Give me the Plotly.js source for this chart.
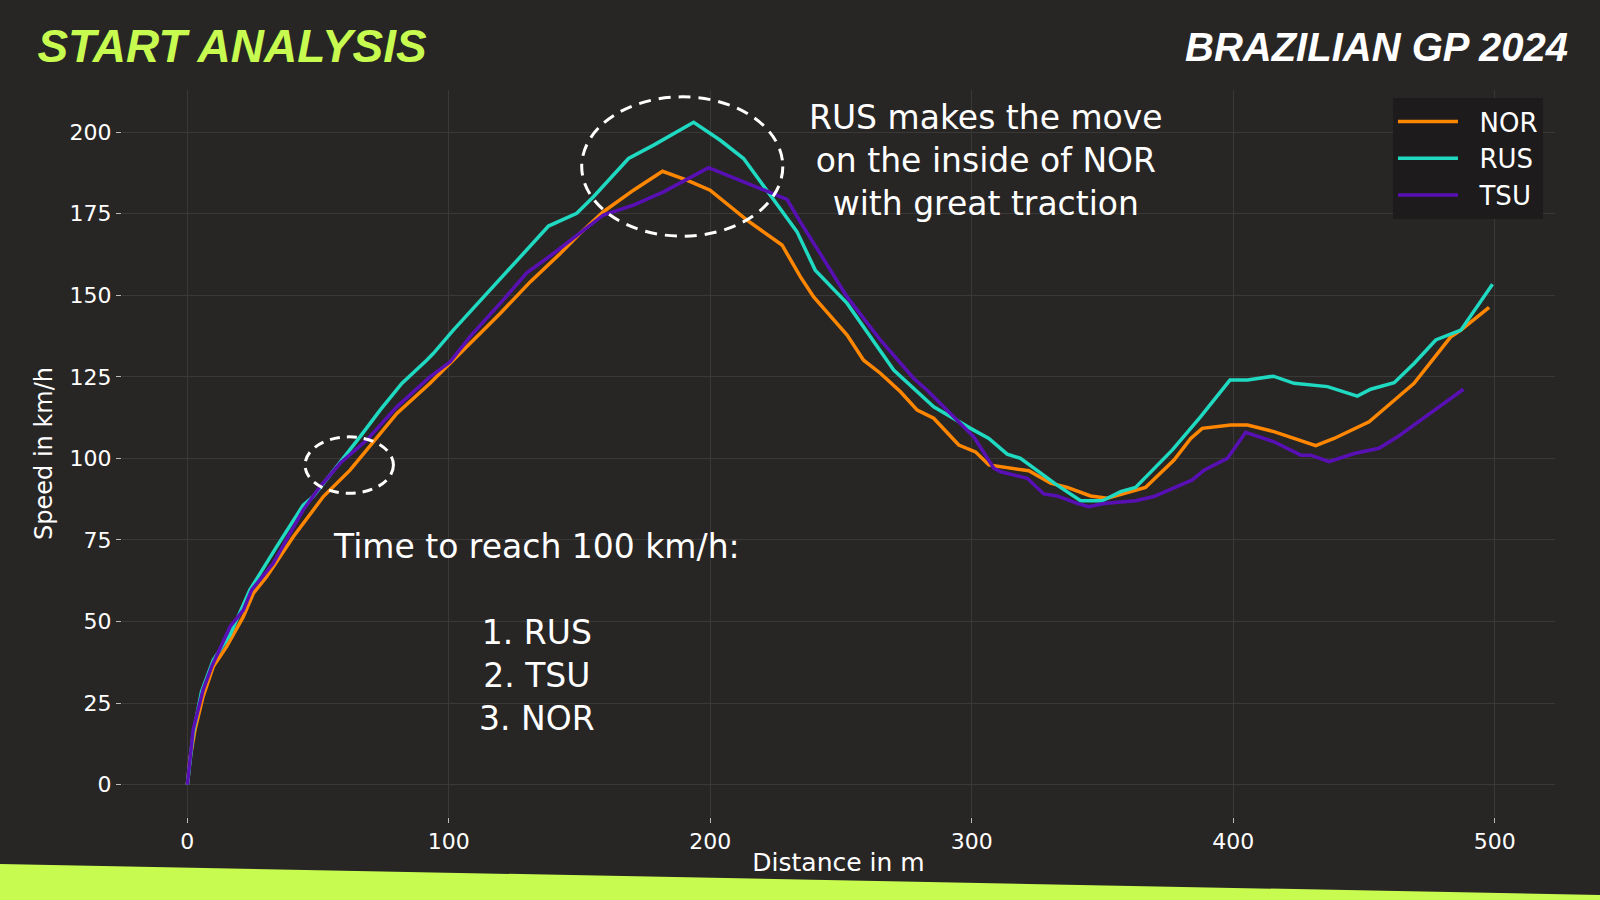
<!DOCTYPE html>
<html>
<head>
<meta charset="utf-8">
<script src="https://cdn.plot.ly/plotly-3.0.1.min.js"></script>
<style>
  html, body { margin: 0; padding: 0; background: #282525; }
  #wrap { position: relative; width: 1600px; height: 900px; overflow: hidden; }
  #chart { width: 1600px; height: 900px; }
  #band {
    position: absolute; left: 0; top: 0; width: 1600px; height: 900px;
    background: #c8fb50; pointer-events: none;
    clip-path: polygon(0px 864px, 1600px 895px, 1600px 900px, 0px 900px);
  }
</style>
</head>
<body>
<div id="wrap">
<div id="chart"></div>
<div id="band"></div>
</div>
<script>
// ---- Data ----
const drivers = ["NOR", "RUS", "TSU"];
const colors = ["#ff8700", "#1fd9c1", "#5810b4"];

const norDistance = [0, 1, 2.9, 6, 9.9, 15, 21.4, 25.2, 30.3, 40.5, 52, 62.2, 68.6, 80.1, 92.8, 100.5, 109.4, 119.6, 131.1, 142.6, 150.2, 159.1, 170.6, 181.7, 191, 199.9, 214, 227.4, 234.4, 239.5, 252.3, 258.6, 265, 272.7, 279.1, 285.4, 295, 301.4, 306.5, 311.6, 321.8, 330.1, 336.5, 345.4, 351.8, 366.4, 377.3, 383.7, 388.1, 399, 405.4, 415.5, 431.5, 438.5, 451.9, 460.2, 469.1, 483.2, 487, 497.8];
const norSpeed = [0, 8, 16.8, 27, 36.2, 42.3, 51.5, 58.6, 63.7, 76, 88.3, 96.4, 102.6, 113.8, 123, 129.1, 136.3, 144.4, 154.1, 162.8, 169, 175.6, 182.2, 188, 185.3, 182.2, 173, 165.4, 155.7, 149.5, 137.8, 130.1, 126.1, 120.4, 114.8, 112.3, 104.1, 102, 98, 97.4, 96.2, 92.4, 91.1, 88.5, 87.8, 91.1, 99.5, 106.1, 109.2, 110.2, 110.2, 108.2, 103.9, 106.1, 111.2, 116.9, 123, 137.3, 139.3, 146.3];

const rusDistance = [0, 2.2, 5.4, 9.9, 16.3, 23.9, 34.1, 44.3, 48.1, 57.1, 66, 73.7, 82, 91.5, 94.1, 101.7, 114.5, 127.3, 138.1, 148.9, 155.3, 168.7, 178.3, 193.6, 203.8, 212.7, 222.9, 233.1, 240.1, 252.3, 270.1, 285.4, 299.5, 306.5, 313.5, 318.6, 332.6, 341.6, 349.9, 356.9, 362.6, 376.7, 387.5, 398.7, 405.4, 415.3, 423.2, 436, 447.4, 452.5, 461.5, 469.1, 477.4, 487, 499.1];
const rusSpeed = [0, 15.7, 28.5, 38.2, 45.9, 59.7, 72.9, 85.7, 88.3, 97.4, 106.6, 114.8, 123, 130.1, 132.2, 139.3, 150.6, 161.8, 171.2, 175.1, 180.2, 191.9, 196, 203, 197.5, 191.9, 180.7, 169.5, 157.7, 147.5, 127.1, 115.8, 109.2, 106.1, 101.3, 100, 91.8, 87, 87, 89.8, 91.1, 102.6, 112.8, 124, 124, 125.2, 123, 122, 119.1, 121.2, 123.2, 129.1, 136.3, 139.3, 153.4];

const tsuDistance = [0, 2.2, 6, 9.3, 16.3, 21.4, 24.6, 32.8, 44.3, 50.7, 58.4, 68.6, 80.1, 92.8, 100.5, 108.1, 119.6, 129.8, 140, 150.2, 159.1, 170.6, 182.1, 199.3, 211.4, 229.3, 234.4, 239.5, 252.3, 265, 277.8, 282.9, 300.7, 308.4, 311, 321.2, 327.5, 332.6, 340.3, 344.7, 350.5, 362.6, 369.6, 384.3, 388.8, 397.7, 404.7, 415.5, 425.8, 429.6, 436.6, 446.2, 455.7, 462.8, 476.8, 488];
const tsuSpeed = [0, 16.8, 29, 36.2, 48.4, 53.5, 59.7, 67.8, 84.2, 91.3, 98.5, 105.6, 115.8, 125, 129.6, 137.3, 147.5, 156.9, 162.8, 169, 174.6, 177.6, 181.7, 189.1, 185.3, 179.4, 172.5, 165.9, 149.5, 136.3, 124.5, 120.9, 106.6, 97, 95.9, 93.9, 89.1, 88.5, 86.2, 85.2, 86.2, 87, 88.3, 93.4, 96.4, 100, 108, 105.1, 101, 101, 99, 101.5, 103.1, 106.6, 114.8, 121.2];

const xTickValues = [0, 100, 200, 300, 400, 500];
const yTickValues = [0, 25, 50, 75, 100, 125, 150, 175, 200];

const titleText = "START ANALYSIS";
const subtitleText = "BRAZILIAN GP 2024";
const moveNote = "RUS makes the move<br>on the inside of NOR<br>with great traction";
const rankNote = "Time to reach 100 km/h:<br><br>1. RUS<br>2. TSU<br>3. NOR";

// highlighted regions (distance range, speed range)
const peakCircle = { d0: 150.8, d1: 227.7, s0: 168.1, s1: 210.8 };
const launchCircle = { d0: 45, d1: 78.8, s0: 89.3, s1: 106.6 };

// ---- Chart ----
const distances = [norDistance, rusDistance, tsuDistance];
const speeds = [norSpeed, rusSpeed, tsuSpeed];
const legendPad = "\u00a0\u00a0";

const traces = drivers.map((name, i) => ({
  type: "scatter",
  mode: "lines",
  name: legendPad + name,
  x: distances[i],
  y: speeds[i],
  line: { color: colors[i], width: 3.5 },
  hoverinfo: "skip"
}));

const white = "#ffffff";
const bg = "#282525";
const lime = "#c8fb50";

const layout = {
  width: 1600,
  height: 900,
  paper_bgcolor: bg,
  plot_bgcolor: bg,
  margin: { l: 122, r: 45, t: 90, b: 83 },
  font: { family: "DejaVu Sans", color: white },
  title: {
    text: titleText,
    x: 0.0234, xanchor: "left",
    y: 0.949, yanchor: "middle", yref: "container",
    font: { family: "Liberation Sans", size: 46, color: lime, weight: "bold", style: "italic" }
  },
  showlegend: true,
  legend: {
    x: 0.9916, xanchor: "right",
    y: 0.989, yanchor: "top",
    bgcolor: "#1d1b1b",
    borderwidth: 0,
    itemwidth: 60,
    font: { family: "DejaVu Sans", size: 26, color: white }
  },
  xaxis: {
    range: [-25, 523],
    tickvals: xTickValues,
    ticks: "outside", ticklen: 5, tickwidth: 1, tickcolor: "#bdbdbd",
    tickfont: { family: "DejaVu Sans", size: 22, color: white },
    showgrid: true, gridcolor: "#3b3838", gridwidth: 1,
    zeroline: false, showline: false,
    title: { text: "Distance in m", font: { family: "DejaVu Sans", size: 25, color: white }, standoff: 0 }
  },
  yaxis: {
    range: [-9.9, 212.9],
    tickvals: yTickValues,
    ticks: "outside", ticklen: 5, tickwidth: 1, tickcolor: "#bdbdbd",
    tickfont: { family: "DejaVu Sans", size: 22, color: white },
    showgrid: true, gridcolor: "#3b3838", gridwidth: 1,
    zeroline: false, showline: false,
    title: { text: "Speed in km/h", font: { family: "DejaVu Sans", size: 24, color: white }, standoff: 10 }
  },
  shapes: [
    {
      type: "circle", xref: "x", yref: "y", layer: "above",
      x0: peakCircle.d0, x1: peakCircle.d1, y0: peakCircle.s0, y1: peakCircle.s1,
      line: { color: white, width: 3, dash: "12px,8px" }
    },
    {
      type: "circle", xref: "x", yref: "y", layer: "above",
      x0: launchCircle.d0, x1: launchCircle.d1, y0: launchCircle.s0, y1: launchCircle.s1,
      line: { color: white, width: 3, dash: "10px,7px" }
    }
  ],
  annotations: [
    {
      text: subtitleText, xref: "paper", yref: "paper",
      x: 1.0105, xanchor: "right", y: 1.0585, yanchor: "middle",
      showarrow: false,
      font: { family: "Liberation Sans", size: 40, color: white, weight: "bold", style: "italic" }
    },
    {
      text: moveNote, xref: "paper", yref: "paper",
      x: 0.603, xanchor: "center", y: 0.9037, yanchor: "middle",
      showarrow: false, align: "center",
      font: { family: "DejaVu Sans", size: 33, color: white }
    },
    {
      text: rankNote, xref: "paper", yref: "paper",
      x: 0.2896, xanchor: "center", y: 0.2531, yanchor: "middle",
      showarrow: false, align: "center",
      font: { family: "DejaVu Sans", size: 33, color: white }
    }
  ]
};

Plotly.newPlot("chart", traces, layout, { displayModeBar: false, staticPlot: true });
</script>
</body>
</html>
